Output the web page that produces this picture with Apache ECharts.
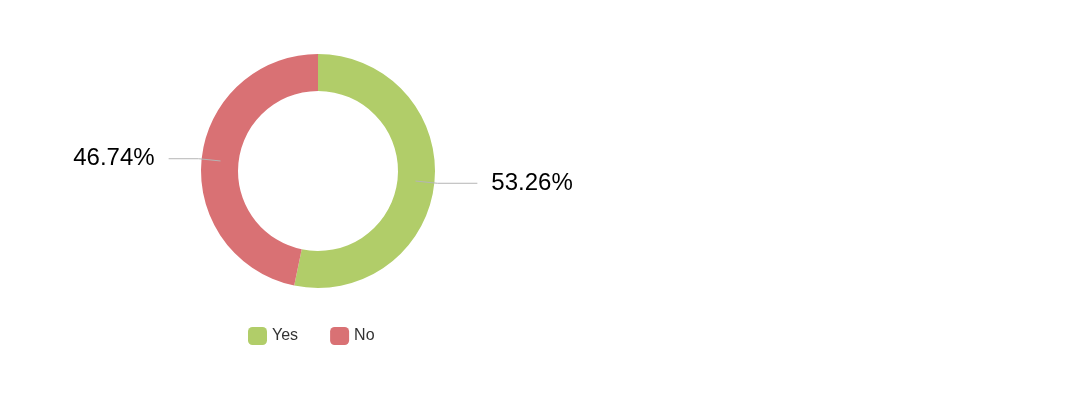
<!DOCTYPE html>
<html>
<head>
<meta charset="utf-8">
<script src="https://cdn.jsdelivr.net/npm/echarts@6/dist/echarts.min.js"></script>
<style>
  html, body { margin: 0; padding: 0; background: #fff; }
  #chart { width: 1080px; height: 400px; }
</style>
</head>
<body>
<div id="chart"></div>
<script>
// Chart data
const categories = ['Yes', 'No'];
const shares = [53.26, 46.74];
const colors = ['#b1cd69', '#d97174'];
const lineTails = [40, 30];

const chart = echarts.init(document.getElementById('chart'));

const ringData = categories.map((name, i) => ({
    name: name,
    value: shares[i],
    itemStyle: { color: colors[i] }
}));

// Second, invisible ring at mid-width just to start the leader lines inside the donut
const labelData = categories.map((name, i) => ({
    name: name,
    value: shares[i],
    itemStyle: { color: 'rgba(0,0,0,0)' },
    labelLine: { length2: lineTails[i] }
}));

const option = {
    animation: false,
    legend: {
        bottom: 50,
        left: 243,
        icon: 'roundRect',
        itemWidth: 19,
        itemHeight: 18,
        itemGap: 32,
        textStyle: { fontFamily: 'Liberation Sans, Arial, sans-serif', fontSize: 16, color: '#333' },
        data: categories
    },
    series: [
        {
            name: 'ring',
            type: 'pie',
            center: [318, 171],
            radius: [80, 117],
            startAngle: 90,
            clockwise: true,
            silent: true,
            label: { show: false },
            labelLine: { show: false },
            data: ringData
        },
        {
            name: 'labels',
            type: 'pie',
            center: [318, 171],
            radius: [97, 98],
            startAngle: 90,
            clockwise: true,
            silent: true,
            legendHoverLink: false,
            z: 3,
            label: {
                show: true,
                position: 'outside',
                formatter: p => p.value.toFixed(2) + '%',
                fontFamily: 'Liberation Sans, Arial, sans-serif',
                fontSize: 24,
                color: '#000',
                distanceToLabelLine: 14
            },
            labelLine: {
                show: true,
                length: 22,
                length2: 40,
                smooth: false,
                lineStyle: { color: '#b5b5b5', width: 1 }
            },
            data: labelData
        }
    ]
};

chart.setOption(option);
</script>
</body>
</html>
